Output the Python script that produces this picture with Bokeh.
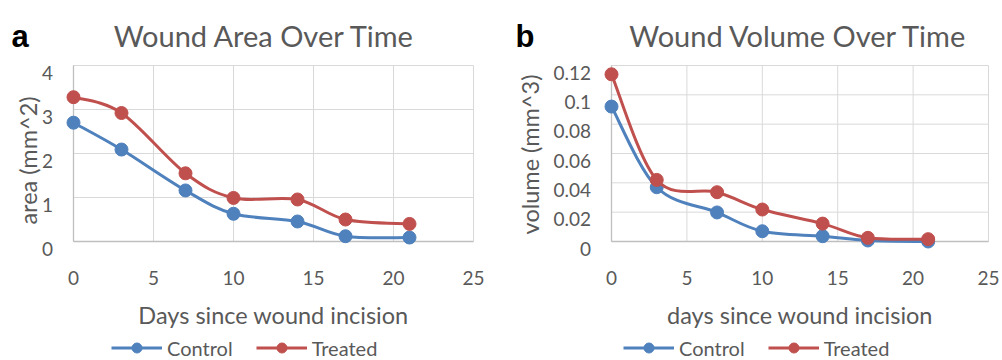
import math
from bokeh.plotting import figure
from bokeh.layouts import row
from bokeh.models import Legend, LegendItem, Range1d
from bokeh.core.properties import value
from bokeh.embed import file_html
from bokeh.resources import INLINE

# ---- data ----
days = [0, 3, 7, 10, 14, 17, 21]
area_control = [2.70, 2.09, 1.16, 0.63, 0.455, 0.12, 0.09]
area_treated = [3.28, 2.92, 1.55, 0.99, 0.955, 0.50, 0.40]
volume_control = [0.092, 0.037, 0.0198, 0.007, 0.0036, 0.0007, 0.0]
volume_treated = [0.114, 0.042, 0.0336, 0.0218, 0.0122, 0.0025, 0.0016]
x_ticks = [0, 5, 10, 15, 20, 25]
area_ticks = [0, 1, 2, 3, 4]
volume_ticks = [0, 0.02, 0.04, 0.06, 0.08, 0.1, 0.12]
series_names = ["Control", "Treated"]

BLUE = "#4F81BD"
RED = "#C0504D"
GREY = "#595959"
FONT = "Lato"
FIG_W, FIG_H = 501, 360


def smooth_segments(xs, ys, t=1/6):
    n = len(xs)
    out = dict(x0=[], y0=[], x1=[], y1=[], cx0=[], cy0=[], cx1=[], cy1=[])
    for i in range(n - 1):
        a = max(i - 1, 0)
        d = min(i + 2, n - 1)
        out["x0"].append(xs[i]); out["y0"].append(ys[i])
        out["x1"].append(xs[i + 1]); out["y1"].append(ys[i + 1])
        out["cx0"].append(xs[i] + (xs[i + 1] - xs[a]) * t)
        out["cy0"].append(ys[i] + (ys[i + 1] - ys[a]) * t)
        out["cx1"].append(xs[i + 1] - (xs[d] - xs[i]) * t)
        out["cy1"].append(ys[i + 1] - (ys[d] - ys[i]) * t)
    return out


def make_panel(letter, title, xlabel, ylabel, yc, yt, yticks, L):
    # L holds the pixel layout of the panel (style only)
    pl, pr, pt, pb = L["plot_left"], L["plot_right"], 65, 241
    sx = (pr - pl) / (x_ticks[-1] - x_ticks[0])
    ymax = yticks[-1]
    sy = (pb - pt) / (ymax - yticks[0])
    x0 = x_ticks[0] - pl / sx
    y1 = ymax + pt / sy

    def X(px):
        return x0 + px / sx

    def Y(py):
        return y1 - py / sy

    p = figure(width=FIG_W, height=FIG_H, output_backend="svg", toolbar_location=None,
               x_range=Range1d(x0, X(FIG_W)), y_range=Range1d(Y(FIG_H), y1),
               x_axis_location=None, y_axis_location=None, min_border=0)
    p.min_border_left = p.min_border_right = p.min_border_top = p.min_border_bottom = 0
    p.outline_line_color = None
    p.grid.visible = False

    # gridlines and axis lines
    n_y, n_x = len(yticks), len(x_ticks)
    p.segment(x0=[x_ticks[0]] * n_y, x1=[x_ticks[-1]] * n_y, y0=yticks, y1=yticks,
              line_color="#D9D9D9", line_width=1)
    p.segment(x0=x_ticks, x1=x_ticks, y0=[yticks[0]] * n_x, y1=[ymax] * n_x,
              line_color="#D9D9D9", line_width=1)
    p.segment(x0=[x_ticks[0], x_ticks[0]], x1=[x_ticks[-1], x_ticks[0]],
              y0=[yticks[0], yticks[0]], y1=[yticks[0], ymax],
              line_color="#BFBFBF", line_width=1.3)

    # tick labels
    p.text(x=x_ticks, y=[Y(277)] * n_x, text=[f"{t:g}" for t in x_ticks],
           text_font=value(FONT), text_font_size="19px", text_color=GREY,
           text_align="center", text_baseline="alphabetic")
    p.text(x=[X(pl - 20.5)] * n_y, y=yticks, text=[f"{t:g}" for t in yticks],
           y_offset=7, text_font=value(FONT), text_font_size="19px", text_color=GREY,
           text_align="right", text_baseline="alphabetic")

    # axis titles
    p.text(x=[X((pl + pr) / 2)], y=[Y(314)], text=[xlabel],
           text_font=value(FONT), text_font_size="23.5px", text_color=GREY,
           text_align="center", text_baseline="alphabetic")
    p.text(x=[X(L["ylab_x"])], y=[Y(L["ylab_y"])], text=[ylabel], angle=math.pi / 2,
           text_font=value(FONT), text_font_size="23.5px", text_color=GREY,
           text_align="center", text_baseline="alphabetic")

    # chart title and panel letter
    p.text(x=[X(L["title_x"])], y=[Y(35)], text=[title],
           text_font=value(FONT), text_font_size="29px", text_color=GREY,
           text_align="center", text_baseline="alphabetic")
    p.text(x=[X(L["letter_x"])], y=[Y(36)], text=[letter],
           text_font=value("Liberation Sans"), text_font_size="31px",
           text_font_style="bold", text_color="black",
           text_align="left", text_baseline="alphabetic")

    # series
    rends = []
    for ys, col in ((yc, BLUE), (yt, RED)):
        seg = smooth_segments(days, ys)
        p.bezier(source=seg, x0="x0", y0="y0", x1="x1", y1="y1",
                 cx0="cx0", cy0="cy0", cx1="cx1", cy1="cy1",
                 line_color=col, line_width=3)
        # single-point line: draws nothing in the plot, gives the legend its line
        lr = p.line(x=days[:1], y=ys[:1], line_color=col, line_width=3)
        sr = p.scatter(days, ys, size=13, fill_color=col, line_color=col)
        rends.append((lr, sr))

    legend = Legend(items=[LegendItem(label=series_names[i], renderers=list(rends[i]))
                           for i in range(2)],
                    orientation="horizontal", location=(L["legend_x"], 0),
                    glyph_width=51, glyph_height=25, label_height=25,
                    label_standoff=5, spacing=23,
                    padding=0, margin=0, border_line_alpha=0,
                    background_fill_alpha=0,
                    label_text_font=FONT, label_text_font_size="20px",
                    label_text_color=GREY)
    p.add_layout(legend, "center")
    return p


layout_a = dict(plot_left=73, plot_right=473, title_x=264, letter_x=11,
                ylab_x=27, ylab_y=160, legend_x=111)
layout_b = dict(plot_left=110, plot_right=487, title_x=297, letter_x=14,
                ylab_x=28, ylab_y=154, legend_x=122)

pa = make_panel("a", "Wound Area Over Time", "Days since wound incision", "area (mm^2)",
                area_control, area_treated, area_ticks, layout_a)
pb = make_panel("b", "Wound Volume Over Time", "days since wound incision", "volume (mm^3)",
                volume_control, volume_treated, volume_ticks, layout_b)

layout = row(pa, pb)
open("out.html", "w").write(file_html(layout, INLINE))
